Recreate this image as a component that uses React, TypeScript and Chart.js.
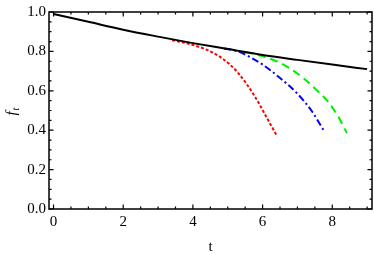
import React, { useEffect, useRef } from "react";
import { Chart, registerables } from "chart.js";

Chart.register(...registerables);

const tBlack = [0, 1, 2, 3, 4, 5, 6, 7, 8, 9];
const fBlack = [0.99, 0.95, 0.91, 0.875, 0.842, 0.812, 0.782, 0.757, 0.733, 0.71];

const tRed = [3.4, 3.8, 4.3, 4.8, 5.3, 5.8, 6.1, 6.4];
const fRed = [0.857, 0.842, 0.815, 0.77, 0.69, 0.565, 0.47, 0.375];

const tBlue = [4.9, 5.3, 5.6, 6.0, 6.5, 7.0, 7.4, 7.75];
const fBlue = [0.815, 0.8, 0.775, 0.733, 0.665, 0.585, 0.5, 0.4];

const tGreen = [5.5, 5.9, 6.4, 6.8, 7.2, 7.6, 7.9, 8.2, 8.42];
const fGreen = [0.797, 0.78, 0.75, 0.712, 0.66, 0.595, 0.54, 0.46, 0.385];

const xTicks = [0, 2, 4, 6, 8];
const xMinorTicks = [0, 0.5, 1, 1.5, 2, 2.5, 3, 3.5, 4, 4.5, 5, 5.5, 6, 6.5, 7, 7.5, 8, 8.5, 9];
const yTicks = [0, 0.2, 0.4, 0.6, 0.8, 1.0];
const yMinorTicks = [0, 0.05, 0.1, 0.15, 0.2, 0.25, 0.3, 0.35, 0.4, 0.45, 0.5, 0.55, 0.6, 0.65, 0.7, 0.75, 0.8, 0.85, 0.9, 0.95, 1.0];

const FONT = "'Liberation Serif', 'DejaVu Serif', serif";

const toPts = (xs: number[], ys: number[]) => xs.map((x, i) => ({ x, y: ys[i] }));

const framePlugin = {
  id: "frame",
  afterDraw(chart: any) {
    const { ctx, chartArea } = chart;
    const xs = chart.scales.x;
    const ys = chart.scales.y;
    const { left, right, top, bottom } = chartArea;
    ctx.save();
    ctx.strokeStyle = "#000";
    ctx.lineWidth = 1.5;
    ctx.strokeRect(left, top, right - left, bottom - top);
    ctx.lineWidth = 1.2;
    const major = 4.5;
    const minor = 2.5;
    xMinorTicks.forEach((v) => {
      const px = xs.getPixelForValue(v);
      const len = xTicks.includes(v) ? major : minor;
      ctx.beginPath();
      ctx.moveTo(px, bottom);
      ctx.lineTo(px, bottom - len);
      ctx.moveTo(px, top);
      ctx.lineTo(px, top + len);
      ctx.stroke();
    });
    yMinorTicks.forEach((v) => {
      const py = ys.getPixelForValue(v);
      const len = yTicks.some((t) => Math.abs(t - v) < 1e-9) ? major : minor;
      ctx.beginPath();
      ctx.moveTo(left, py);
      ctx.lineTo(left + len, py);
      ctx.moveTo(right, py);
      ctx.lineTo(right - len, py);
      ctx.stroke();
    });
    // axis titles
    ctx.fillStyle = "#000";
    ctx.textBaseline = "middle";
    ctx.textAlign = "center";
    ctx.font = `15px ${FONT}`;
    ctx.fillText("t", (left + right) / 2 + 0, 247);
    ctx.save();
    ctx.translate(12, (top + bottom) / 2);
    ctx.rotate(-Math.PI / 2);
    ctx.textAlign = "left";
    ctx.font = `italic 15px ${FONT}`;
    ctx.fillText("f", -5, 0);
    ctx.font = `italic 10px ${FONT}`;
    ctx.fillText("t", 0, 4);
    ctx.restore();
    ctx.restore();
  },
};

export default function App() {
  const ref = useRef<HTMLCanvasElement | null>(null);
  useEffect(() => {
    if (!ref.current) return;
    const chart = new Chart(ref.current, {
      type: "line",
      data: {
        datasets: [
          {
            data: toPts(tBlack, fBlack),
            borderColor: "#000",
            borderWidth: 2,
            pointRadius: 0,
            cubicInterpolationMode: "monotone",
          },
          {
            data: toPts(tRed, fRed),
            borderColor: "#ff0000",
            borderWidth: 2,
            borderDash: [3, 2],
            pointRadius: 0,
            cubicInterpolationMode: "monotone",
          },
          {
            data: toPts(tBlue, fBlue),
            borderColor: "#0000ff",
            borderWidth: 2,
            borderDash: [7, 3, 2, 3],
            pointRadius: 0,
            cubicInterpolationMode: "monotone",
          },
          {
            data: toPts(tGreen, fGreen),
            borderColor: "#00ee00",
            borderWidth: 2,
            borderDash: [8, 5],
            pointRadius: 0,
            cubicInterpolationMode: "monotone",
          },
        ],
      },
      options: {
        animation: false,
        responsive: false,
        maintainAspectRatio: false,
        layout: { padding: { left: 0, top: 11, right: 2, bottom: 0 } },
        plugins: { legend: { display: false }, tooltip: { enabled: false } },
        scales: {
          x: {
            type: "linear",
            min: -0.13,
            max: 9.14,
            grid: { display: false, drawTicks: false },
            border: { display: false },
            afterBuildTicks: (s: any) => {
              s.ticks = xTicks.map((v) => ({ value: v }));
            },
            afterFit: (s: any) => {
              s.height = 46;
            },
            ticks: {
              color: "#000",
              font: { family: FONT, size: 15 },
              padding: 4,
              maxRotation: 0,
              callback: (v: any) => String(v),
            },
          },
          y: {
            type: "linear",
            min: 0,
            max: 1,
            grid: { display: false, drawTicks: false },
            border: { display: false },
            afterBuildTicks: (s: any) => {
              s.ticks = yTicks.map((v) => ({ value: v }));
            },
            afterFit: (s: any) => {
              s.width = 49;
            },
            ticks: {
              color: "#000",
              font: { family: FONT, size: 15 },
              padding: 3,
              callback: (v: any) => Number(v).toFixed(1),
            },
          },
        },
      },
      plugins: [framePlugin],
    });
    return () => chart.destroy();
  }, []);
  return (
    <div style={{ position: "fixed", left: 0, top: 0, width: 374, height: 255, background: "#fff" }}>
      <canvas ref={ref} width={374} height={255} style={{ width: 374, height: 255 }} />
    </div>
  );
}
